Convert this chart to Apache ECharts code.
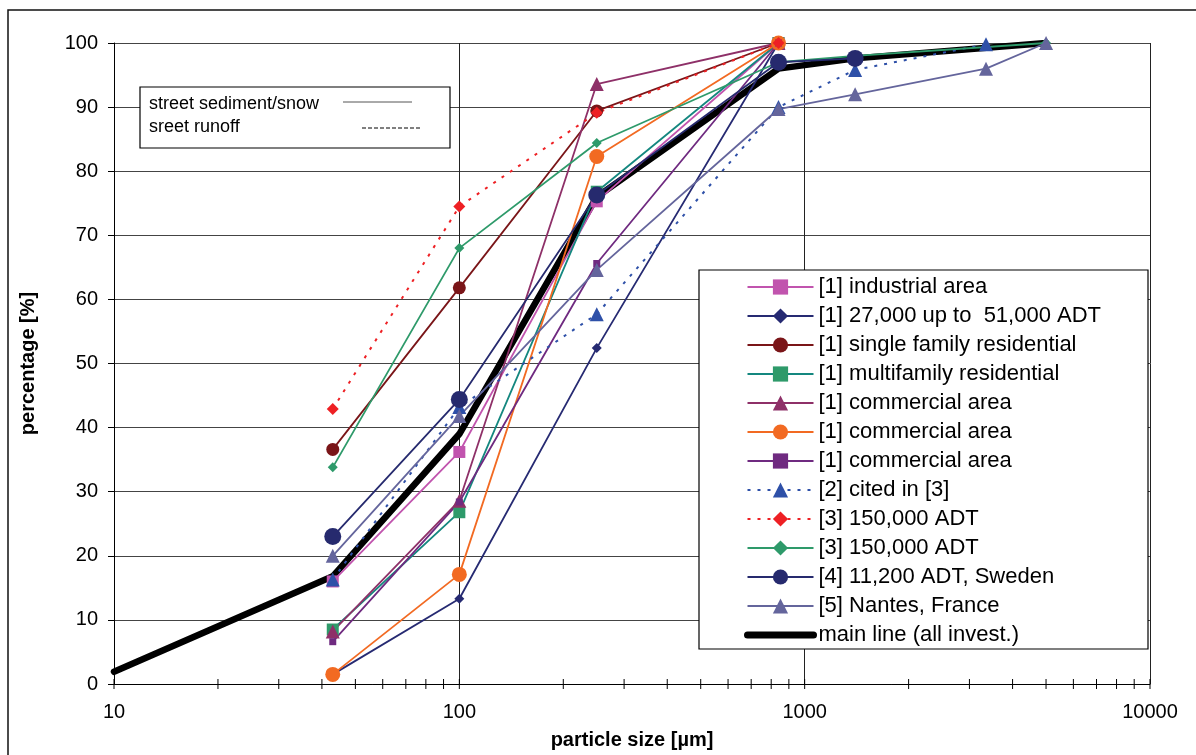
<!DOCTYPE html>
<html>
<head>
<meta charset="utf-8">
<script src="https://cdn.jsdelivr.net/npm/echarts@6/dist/echarts.min.js"></script>
<style>
  html, body { margin: 0; padding: 0; background: #fff; }
  #chart { width: 1196px; height: 755px; }
</style>
</head>
<body>
<div id="chart"></div>
<script>
// particle sizes [µm] per data set
const sizes4 = [43, 100, 250, 840];
const sizesDotBlue = [43, 100, 250, 840, 1400, 3350];
const sizesGreen = [43, 100, 250, 840, 1400, 5000];
const sizesSweden = [43, 100, 250, 840, 1400];
const sizesNantes = [43, 100, 250, 840, 1400, 3350, 5000];
const sizesMain = [10, 43, 100, 250, 840, 1400, 5000];

// percentage passing
const industrial = [16, 36.2, 75.3, 100];
const adt27000 = [1.5, 13.3, 52.4, 100];
const singleFamily = [36.6, 61.8, 89.4, 100];
const multiFamily = [8.5, 26.8, 76.8, 100];
const commercialA = [8.2, 28.6, 93.6, 100];
const commercialB = [1.5, 17.1, 82.3, 100];
const commercialC = [6.6, 28.4, 65.6, 100];
const citedIn3 = [16.3, 43.2, 57.7, 90, 95.8, 99.8];
const adt150Red = [42.9, 74.5, 89.1, 100];
const adt150Green = [33.8, 68, 84.4, 97, 98, 100];
const sweden = [23, 44.4, 76.3, 97, 97.6];
const nantes = [20, 41.8, 64.6, 89.7, 92, 96, 100];
const mainLine = [1.9, 16.8, 39, 76, 96, 97.6, 100];

// tick marks on the log axis
const xTicks = [10, 20, 30, 40, 50, 60, 70, 80, 90, 100, 200, 300, 400, 500, 600, 700, 800, 900,
  1000, 2000, 3000, 4000, 5000, 6000, 7000, 8000, 9000, 10000];

const font = "'Liberation Sans', Arial, sans-serif";
const pair = (xs, ys) => xs.map((x, i) => [x, ys[i]]);

const mk = (name, xs, ys, color, symbol, size, opts) => Object.assign({
  name: name,
  type: 'line',
  data: pair(xs, ys),
  symbol: symbol,
  symbolSize: size,
  color: color,
  lineStyle: { color: color, width: 1.8 },
  itemStyle: { color: color },
  z: 3
}, opts || {});

const chart = echarts.init(document.getElementById('chart'));

const series = [
  mk('main line (all invest.)', sizesMain, mainLine, '#000', 'none', 0,
    { lineStyle: { color: '#000', width: 6.5, cap: 'round' }, z: 2 }),
  mk('[1] industrial area', sizes4, industrial, '#C154AE', 'rect', 12),
  mk('[1] 27,000 up to  51,000 ADT', sizes4, adt27000, '#262A72', 'diamond', 10),
  mk('[1] single family residential', sizes4, singleFamily, '#7A1518', 'circle', 13),
  mk('[1] multifamily residential', sizes4, multiFamily, '#2E9A6A', 'rect', 12,
    { lineStyle: { color: '#14877F', width: 1.8 } }),
  mk('[1] commercial area', sizes4, commercialA, '#8E3068', 'triangle', 14),
  mk('[1] commercial area ', sizes4, commercialB, '#F26A22', 'circle', 15),
  mk('[1] commercial area  ', sizes4, commercialC, '#6F2A80', 'rect', 7),
  mk('[2] cited in [3]', sizesDotBlue, citedIn3, '#2E50A8', 'triangle', 14,
    { lineStyle: { color: '#2E50A8', width: 2, type: [3, 7] } }),
  mk('[3] 150,000 ADT', sizes4, adt150Red, '#EE2024', 'diamond', 12,
    { lineStyle: { color: '#EE2024', width: 2, type: [3, 7] } }),
  mk('[3] 150,000 ADT ', sizesGreen, adt150Green, '#2E9A6A', 'diamond', 10),
  mk('[4] 11,200 ADT, Sweden', sizesSweden, sweden, '#262A6E', 'circle', 17),
  mk('[5] Nantes, France', sizesNantes, nantes, '#64659C', 'triangle', 14),
  {
    type: 'custom',
    silent: true,
    clip: false,
    z: 5,
    data: xTicks.map(v => [v, 0]),
    renderItem: function (params, api) {
      const p = api.coord([api.value(0), api.value(1)]);
      return {
        type: 'line',
        shape: { x1: p[0], y1: p[1] - 5, x2: p[0], y2: p[1] + 5 },
        style: { stroke: '#000', lineWidth: 1 }
      };
    }
  }
];

const legendNames = series.filter(s => s.type === 'line').map(s => s.name);
legendNames.push(legendNames.shift());
const legendData = legendNames.map(n => n === 'main line (all invest.)'
  ? { name: n, itemStyle: { opacity: 0 }, lineStyle: { width: 7, cap: 'round' } }
  : { name: n });

chart.setOption({
  animation: false,
  backgroundColor: '#fff',
  textStyle: { fontFamily: font },
  grid: { left: 114, top: 43, right: 46, bottom: 67 },
  xAxis: {
    type: 'log',
    logBase: 10,
    min: 10,
    max: 10000,
    name: 'particle size [µm]',
    nameLocation: 'middle',
    nameGap: 46,
    nameTextStyle: { fontFamily: font, fontSize: 20, fontWeight: 'bold', color: '#000' },
    axisLine: { lineStyle: { color: '#000', width: 1 } },
    axisTick: { show: false },
    axisLabel: { fontFamily: font, fontSize: 20, color: '#000', margin: 18,
      formatter: v => String(Math.round(v)) },
    splitLine: { show: true, lineStyle: { color: '#222', width: 1 } }
  },
  yAxis: {
    type: 'value',
    min: 0,
    max: 100,
    interval: 10,
    name: 'percentage [%]',
    nameLocation: 'middle',
    nameGap: 76,
    nameTextStyle: { fontFamily: font, fontSize: 20, fontWeight: 'bold', color: '#000' },
    axisLine: { show: true, lineStyle: { color: '#000', width: 1 } },
    axisTick: { show: true, length: 6, lineStyle: { color: '#000' } },
    axisLabel: { fontFamily: font, fontSize: 20, color: '#000', margin: 16 },
    splitLine: { lineStyle: { color: '#444', width: 1 } }
  },
  legend: {
    orient: 'vertical',
    left: 744,
    top: 276,
    z: 10,
    padding: 0,
    itemWidth: 66,
    itemHeight: 19,
    itemGap: 7,
    selectedMode: false,
    data: legendData,
    textStyle: { fontFamily: font, fontSize: 22, lineHeight: 22, color: '#000' }
  },
  graphic: [
    { type: 'rect', z: 100, silent: true,
      shape: { x: 8, y: 10, width: 1300, height: 1000 },
      style: { fill: 'none', stroke: '#111', lineWidth: 1.5 } },
    { type: 'rect', z: 8, silent: true,
      shape: { x: 699, y: 270, width: 449, height: 379 },
      style: { fill: '#fff', stroke: '#000', lineWidth: 1.2 } },
    { type: 'rect', z: 8, silent: true,
      shape: { x: 140, y: 87, width: 310, height: 61 },
      style: { fill: '#fff', stroke: '#000', lineWidth: 1.2 } },
    { type: 'text', z: 9, silent: true, x: 149, y: 104,
      style: { text: 'street sediment/snow', font: '18px ' + font, fill: '#000', verticalAlign: 'middle' } },
    { type: 'text', z: 9, silent: true, x: 149, y: 127,
      style: { text: 'sreet runoff', font: '18px ' + font, fill: '#000', verticalAlign: 'middle' } },
    { type: 'line', z: 9, silent: true,
      shape: { x1: 343, y1: 102, x2: 412, y2: 102 },
      style: { stroke: '#555', lineWidth: 1 } },
    { type: 'line', z: 9, silent: true,
      shape: { x1: 362, y1: 128, x2: 422, y2: 128 },
      style: { stroke: '#000', lineWidth: 1, lineDash: [4, 2] } }
  ],
  series: series
});
</script>
</body>
</html>
